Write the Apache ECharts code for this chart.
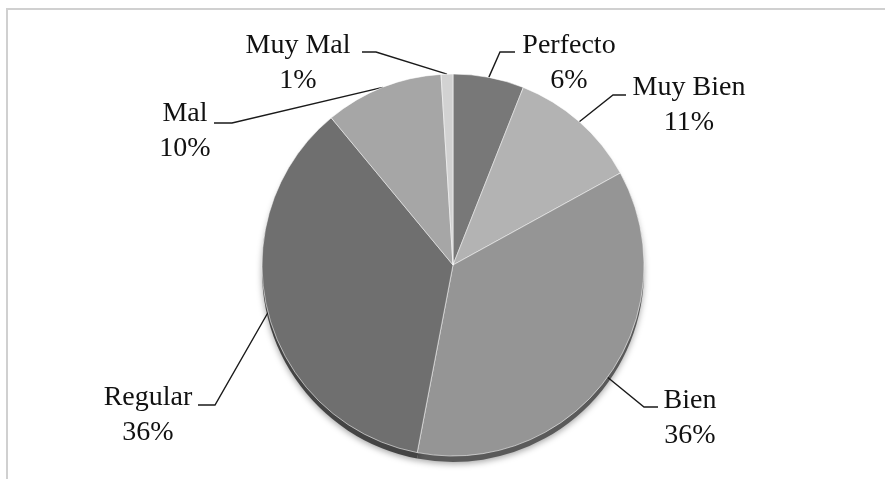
<!DOCTYPE html>
<html>
<head>
<meta charset="utf-8">
<script src="https://cdn.jsdelivr.net/npm/echarts@6/dist/echarts.min.js"></script>
<style>
  html, body { margin: 0; padding: 0; background: #ffffff; }
  #chart { width: 885px; height: 479px; }
</style>
</head>
<body>
<div id="chart"></div>
<script>
// ---- data ----
const categories = ['Perfecto', 'Muy Bien', 'Bien', 'Regular', 'Mal', 'Muy Mal'];
const values = [6, 11, 36, 36, 10, 1];

// ---- styles ----
const faceColors = ['#787878', '#b3b3b3', '#959595', '#6f6f6f', '#a6a6a6', '#d2d2d2'];
const sideColors = ['#4e4e4e', '#6e6e6e', '#5a5a5a', '#444444', '#666666', '#888888'];

// ---- label layout (label centre, leader elbow, leader end) ----
const labelLayoutCfg = [
  { x: 569, y: 63,  elbow: [500, 52],  end: [515, 52] },
  { x: 689, y: 105, elbow: [613, 95],  end: [626, 95] },
  { x: 690, y: 418, elbow: [644, 407], end: [658, 407] },
  { x: 148, y: 415, elbow: [215, 405], end: [198, 405] },
  { x: 185, y: 131, elbow: [232, 123], end: [214, 123] },
  { x: 298, y: 63,  elbow: [376, 52],  end: [362, 52] }
];

const pieCenter = [453, 265];
const pieRadius = 191;

const chart = echarts.init(document.getElementById('chart'), null, { renderer: 'canvas' });

const faceData = categories.map((name, i) => ({
  name: name,
  value: values[i],
  itemStyle: { color: faceColors[i] }
}));
const sideData = categories.map((name, i) => ({
  name: name,
  value: values[i],
  itemStyle: { color: sideColors[i] }
}));

chart.setOption({
  animation: false,
  backgroundColor: '#ffffff',
  graphic: [{
    type: 'rect',
    shape: { x: 7, y: 9, width: 1000, height: 1000 },
    style: { fill: 'none', stroke: '#d0d0d0', lineWidth: 2 },
    silent: true,
    z: -10
  }],
  series: [
    {
      type: 'pie',
      silent: true,
      center: [pieCenter[0], pieCenter[1] + 6],
      radius: pieRadius,
      startAngle: 90,
      clockwise: true,
      label: { show: false },
      labelLine: { show: false },
      itemStyle: {
        borderWidth: 0,
        shadowBlur: 6,
        shadowColor: 'rgba(0,0,0,0.35)',
        shadowOffsetY: 2
      },
      data: sideData,
      z: 1
    },
    {
      type: 'pie',
      silent: true,
      center: pieCenter,
      radius: pieRadius,
      startAngle: 90,
      clockwise: true,
      percentPrecision: 0,
      itemStyle: {
        borderColor: 'rgba(255,255,255,0.55)',
        borderWidth: 1
      },
      label: {
        show: true,
        position: 'outside',
        formatter: '{b}\n{d}%',
        fontFamily: '"Liberation Serif", "Times New Roman", serif',
        fontSize: 28,
        lineHeight: 35,
        color: '#111111',
        align: 'center'
      },
      labelLine: {
        show: true,
        length: 20,
        length2: 10,
        lineStyle: { color: '#1a1a1a', width: 1.4 }
      },
      labelLayout: function (params) {
        const cfg = labelLayoutCfg[params.dataIndex];
        const start = params.labelLinePoints ? params.labelLinePoints[0] : cfg.elbow;
        return {
          x: cfg.x,
          y: cfg.y,
          align: 'center',
          verticalAlign: 'middle',
          labelLinePoints: [start, cfg.elbow, cfg.end]
        };
      },
      data: faceData,
      z: 2
    }
  ]
});
</script>
</body>
</html>
